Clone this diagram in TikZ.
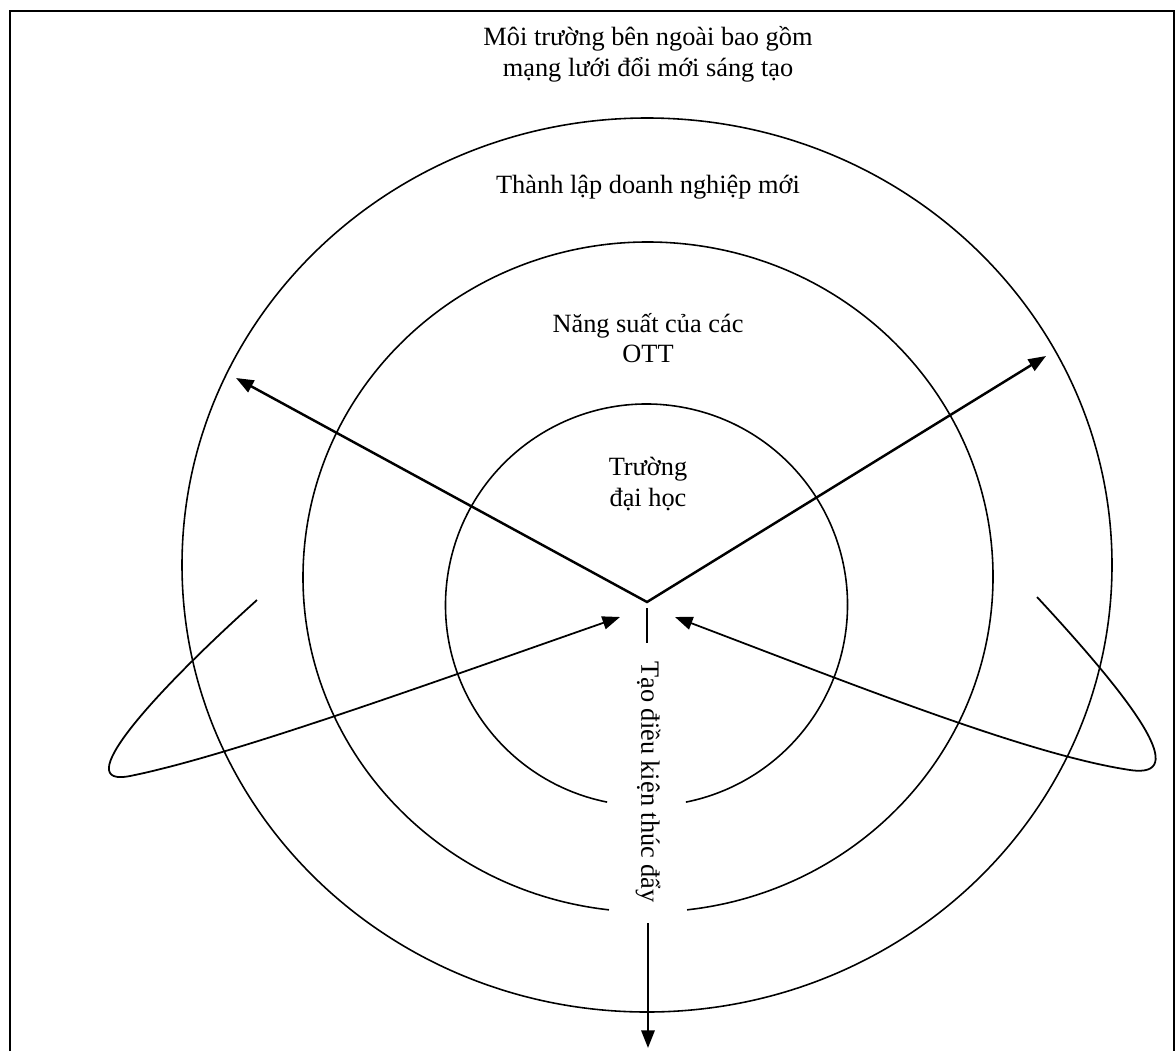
\documentclass[tikz,border=0pt]{standalone}
\usepackage{fontspec}
\setmainfont{Liberation Serif}
\usetikzlibrary{arrows.meta, positioning}

\begin{document}
\begin{tikzpicture}[x=0.02cm, y=-0.02cm,
  ring/.style={line width=0.9pt},
  spoke/.style={line width=1.4pt, {Triangle[length=10pt, width=7.5pt]}-{Triangle[length=10pt, width=7.5pt]}},
  drop/.style={line width=1.4pt, -{Triangle[length=10pt, width=7.5pt]}},
  loopline/.style={line width=1pt, -{Triangle[length=10pt, width=7.5pt]}},
  lbl/.style={font=\fontsize{15}{17.5}\selectfont, align=center}]

  \useasboundingbox (0,0) rectangle (1175,1051);
  \draw[line width=1pt] (10,1051) -- (10,11) -- (1174,11) -- (1174,1051);

  % rings
  \coordinate (outerC) at (647,565);
  \coordinate (midC) at (648,577);
  \coordinate (innerC) at (646.5,605);
  \draw[ring] (outerC) ellipse [x radius=465, y radius=447];
  \draw[ring] (midC) ++(96.5:345 and 335) arc[start angle=96.5, end angle=443.5, x radius=345, y radius=335];
  \draw[ring] (innerC) ++(101.3:201) arc[start angle=101.3, end angle=438.7, radius=201];

  % labels
  \node[lbl] (env) at (648,54) {Môi trường bên ngoài bao gồm\\mạng lưới đổi mới sáng tạo};
  \node[lbl] (firm) at (648,187) {Thành lập doanh nghiệp mới};
  \node[lbl] (ott) at (648,338) {Năng suất của các\\OTT};
  \node[lbl] (uni) at (648,484) {Trường\\đại học};
  \node[lbl, rotate=-90] (cond) at (648,782) {Tạo điều kiện thúc đẩy};

  % spokes out of the university
  \coordinate (hub) at (647,602);
  \coordinate (outL) at (236,378);
  \coordinate (outR) at (1046,356);
  \draw[spoke] (outL) -- (hub) -- (outR);

  % stem and arrow down
  \coordinate (stemTop) at (647,608);
  \coordinate (stemBot) at (647,643);
  \draw[line width=1.4pt] (stemTop) -- (stemBot);
  \coordinate (dropTop) at (648,923);
  \coordinate (dropEnd) at (648,1048);
  \draw[drop] (dropTop) -- (dropEnd);

  % feedback loops
  \coordinate (lA) at (257,600);
  \coordinate (lB) at (130,776);
  \coordinate (lTip) at (620,617);
  \draw[loopline] (lA) .. controls (146,700) and (70,788) .. (lB)
    .. controls (230,756) and (431,683) .. (lTip);
  \coordinate (rA) at (1037,597);
  \coordinate (rB) at (1130,770);
  \coordinate (rTip) at (675,617);
  \draw[loopline] (rA) .. controls (1139,707) and (1190,779) .. (rB)
    .. controls (1030,755) and (862,688) .. (rTip);
\end{tikzpicture}
\end{document}
